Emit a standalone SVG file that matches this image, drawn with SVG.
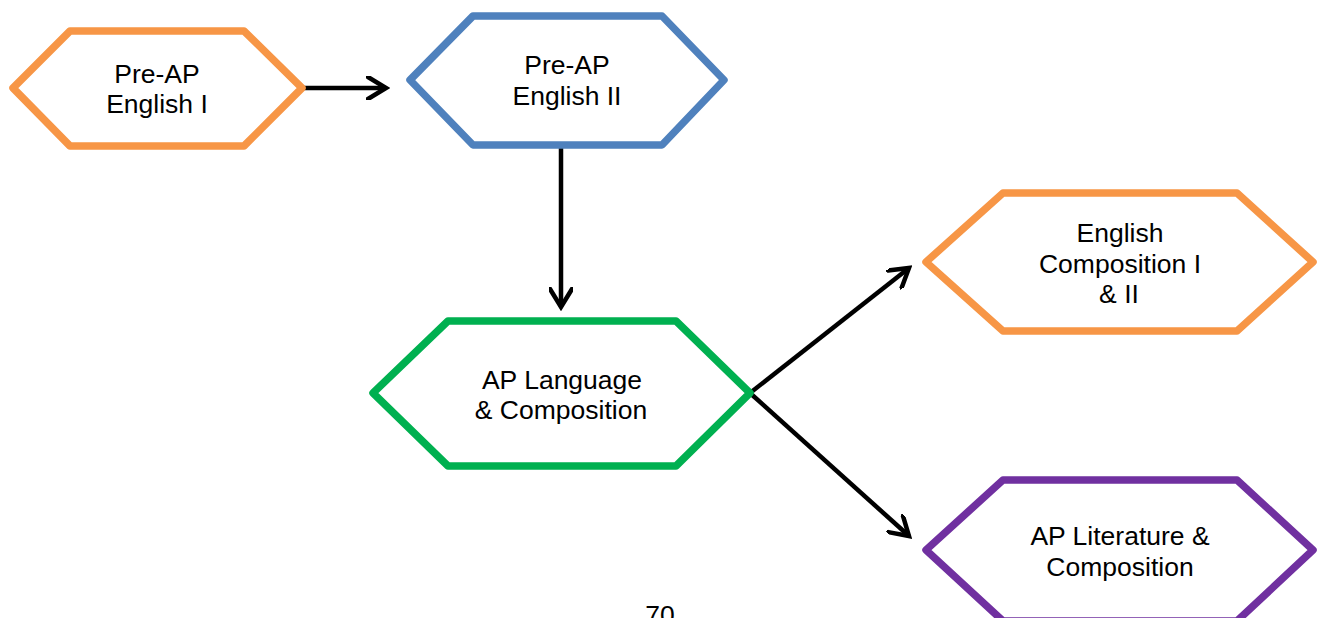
<svg xmlns="http://www.w3.org/2000/svg" width="1320" height="618" viewBox="0 0 1320 618">
<style>
.hex{fill:#fff;stroke-width:7.5;stroke-linejoin:round}
.lbl{font-family:"Liberation Sans",Arial,sans-serif;font-size:26.5px;fill:#000;text-anchor:middle}
.conn{stroke:#000;stroke-width:4.5;fill:none}
</style>
<defs>
<marker id="arr" viewBox="0 0 24 24" markerWidth="24" markerHeight="24" refX="20" refY="12" orient="auto" markerUnits="userSpaceOnUse">
<path d="M2,1 L20,12 L2,23" fill="none" stroke="#000" stroke-width="4.5" stroke-linecap="round" stroke-linejoin="miter"/>
</marker>
</defs>
<rect width="1320" height="618" fill="#fff"/>
<g id="connectors">
<line class="conn" x1="300" y1="88" x2="386" y2="88" marker-end="url(#arr)"/>
<line class="conn" x1="561" y1="146" x2="561" y2="307" marker-end="url(#arr)"/>
<line class="conn" x1="750" y1="393" x2="909" y2="268" marker-end="url(#arr)"/>
<line class="conn" x1="750" y1="393" x2="909" y2="536" marker-end="url(#arr)"/>
</g>
<g id="pre-ap-english-1">
<polygon class="hex" stroke="#F79646" points="13,88 70,31 244,31 302,88 244,146 70,146"/>
<text class="lbl" x="157" y="83">Pre-AP</text>
<text class="lbl" x="157" y="113">English I</text>
</g>
<g id="pre-ap-english-2">
<polygon class="hex" stroke="#4F81BD" points="410,80 473,16 662,16 724,80 662,145 473,145"/>
<text class="lbl" x="567" y="74">Pre-AP</text>
<text class="lbl" x="567" y="105">English II</text>
</g>
<g id="ap-language">
<polygon class="hex" stroke="#00B050" points="373,393 448,321 676,321 750,393 676,466 448,466"/>
<text class="lbl" x="562" y="389">AP Language</text>
<text class="lbl" x="561" y="419">&amp; Composition</text>
</g>
<g id="english-composition">
<polygon class="hex" stroke="#F79646" points="926,262 1003,193 1237,193 1313,262 1237,331 1003,331"/>
<text class="lbl" x="1120" y="242">English</text>
<text class="lbl" x="1120" y="273">Composition I</text>
<text class="lbl" x="1119" y="303">&amp; II</text>
</g>
<g id="ap-literature">
<polygon class="hex" stroke="#7030A0" points="926,550 1003,480 1237,480 1313,550 1237,621 1003,621"/>
<text class="lbl" x="1120" y="545">AP Literature &amp;</text>
<text class="lbl" x="1120" y="576">Composition</text>
</g>
<text class="lbl" x="660" y="624" font-size="20">70</text>
</svg>
